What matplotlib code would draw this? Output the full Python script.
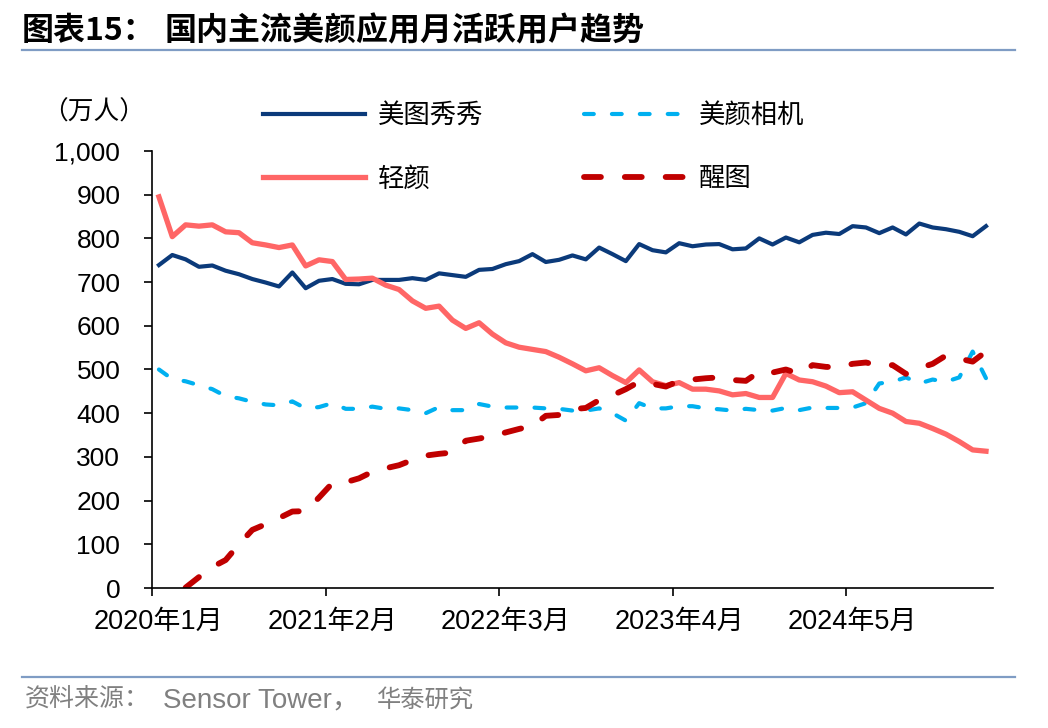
import numpy as np
import matplotlib
matplotlib.use("Agg")
import matplotlib.pyplot as plt
from matplotlib.ticker import FuncFormatter, FixedLocator

plt.rcParams['font.family'] = ['Liberation Sans', 'Noto Sans CJK SC', 'DejaVu Sans']

# monthly MAU (10k users), Jan 2020 .. Mar 2025
months = [f"{2020 + i // 12}年{i % 12 + 1}月" for i in range(63)]

meitu = [739, 762, 752, 735, 738, 726, 718, 707, 699, 690, 722, 686, 703, 707, 696, 695,
         705, 705, 705, 709, 705, 720, 716, 712, 728, 730, 741, 748, 764, 746, 751, 761,
         752, 779, 764, 748, 787, 773, 768, 789, 782, 786, 787, 775, 777, 800, 786, 802,
         791, 808, 813, 810, 828, 825, 812, 825, 809, 834, 825, 821, 815, 805, 828]

meiyan = [500, 478, 473, 464, 455, 439, 434, 426, 420, 418, 427, 411, 414, 423, 410, 410,
          415, 410, 411, 407, 400, 414, 407, 407, 421, 415, 413, 413, 413, 411, 410, 406,
          406, 411, 400, 383, 423, 411, 411, 416, 416, 411, 409, 406, 410, 407, 406, 412,
          407, 413, 412, 412, 413, 423, 468, 472, 482, 468, 477, 472, 482, 541, 480]

qingyan = [895, 804, 831, 828, 831, 815, 813, 790, 785, 779, 785, 737, 751, 747, 706, 707,
           709, 693, 683, 657, 640, 645, 613, 594, 607, 581, 561, 551, 546, 541, 528, 513,
           497, 504, 486, 470, 499, 472, 463, 470, 455, 455, 451, 442, 445, 436, 436, 491,
           476, 472, 462, 447, 449, 430, 411, 400, 381, 377, 365, 352, 335, 316, 313]

xingtu = [np.nan, np.nan, 1, 25, 48, 64, 100, 133, 146, 160, 175, 176, 207, 240, 242, 251,
          266, 274, 281, 293, 303, 307, 310, 337, 342, 348, 356, 364, 371, 394, 396, 409,
          412, 430, 441, 455, 472, 467, 461, 474, 477, 480, 482, 476, 474, 495, 493, 500,
          490, 510, 506, 505, 513, 516, 509, 510, 490, 503, 513, 532, 525, 518, 541]

label_idx = [0, 13, 26, 39, 52]

fig = plt.figure(figsize=(10.48, 7.28), dpi=100)
ax = fig.add_axes([0.1453, 0.1923, 0.9472 - 0.1453, 0.7926 - 0.1923])

x = np.arange(len(months))
l1, = ax.plot(x, meitu, color='#0b3a7a', lw=3.0, solid_joinstyle='round', label='美图秀秀')
l2, = ax.plot(x, meiyan, color='#00b0f0', lw=3.0, linestyle=(0, (2.35, 4.35)),
              dash_capstyle='round', label='美颜相机')
l3, = ax.plot(x, qingyan, color='#ff6666', lw=3.8, solid_joinstyle='round', label='轻颜')
l4, = ax.plot(x, xingtu, color='#c00000', lw=4.2, linestyle=(0, (2.9, 4.1)),
              dash_capstyle='round', label='醒图')

ax.set_xlim(-0.5, len(months) - 0.5)
ax.set_ylim(0, 1000)
ax.set_yticks(np.arange(0, 1001, 100))
ax.yaxis.set_major_formatter(FuncFormatter(lambda v, p: f"{int(v):,}"))

ax.set_xticks(label_idx)
ax.set_xticklabels([months[i] for i in label_idx])
ax.xaxis.set_minor_locator(FixedLocator([i - 0.5 for i in label_idx]))

for s in ['top', 'right']:
    ax.spines[s].set_visible(False)
for s in ['left', 'bottom']:
    ax.spines[s].set_linewidth(1.2)

ax.tick_params(axis='y', direction='out', length=6, width=1.2, pad=17, labelsize=19)
ax.tick_params(axis='x', which='major', length=0, pad=15, labelsize=19.5)
ax.tick_params(axis='x', which='minor', direction='out', length=6, width=1.2)

# unit label
fig.text(42 / 1048, 1 - 113 / 728, '（万人）', fontsize=18.5, va='center', ha='left',
         family=['Noto Sans CJK SC'])

leg = fig.legend([l1, l3, l2, l4], ['美图秀秀', '轻颜', '美颜相机', '醒图'],
                 loc='upper left', bbox_to_anchor=(263 / 1048, 1 - 102 / 728),
                 ncol=2, frameon=False, handlelength=3.86, handletextpad=0.5,
                 columnspacing=3.8, labelspacing=1.38, borderpad=0, borderaxespad=0,
                 prop={'family': 'Noto Sans CJK SC', 'size': 19})

# header and footer
fig.text(22 / 1048, 1 - 31 / 728, '图表15：', fontsize=23, fontweight='bold',
         va='center', ha='left', family=['Noto Sans CJK SC'])
fig.text(165 / 1048, 1 - 31 / 728, '国内主流美颜应用月活跃用户趋势', fontsize=23,
         fontweight='bold', va='center', ha='left', family=['Noto Sans CJK SC'])
fig.add_artist(plt.Line2D([22 / 1048, 1015 / 1048], [1 - 50 / 728] * 2,
                          color='#7f9cc4', lw=1.6))
fig.add_artist(plt.Line2D([22 / 1048, 1015 / 1048], [1 - 677 / 728] * 2,
                          color='#7f9cc4', lw=1.6))
src_y = 1 - 700 / 728
fig.text(25 / 1048, src_y, '资料来源：', fontsize=18, color='#808080', va='center',
         ha='left', family=['Noto Sans CJK SC'])
fig.text(163 / 1048, src_y, 'Sensor Tower，', fontsize=20, color='#808080', va='center',
         ha='left', family=['Liberation Sans', 'Noto Sans CJK SC'])
fig.text(377 / 1048, src_y, '华泰研究', fontsize=17.5, color='#808080', va='center',
         ha='left', family=['Noto Sans CJK SC'])

fig.savefig('out.png', dpi=100)
